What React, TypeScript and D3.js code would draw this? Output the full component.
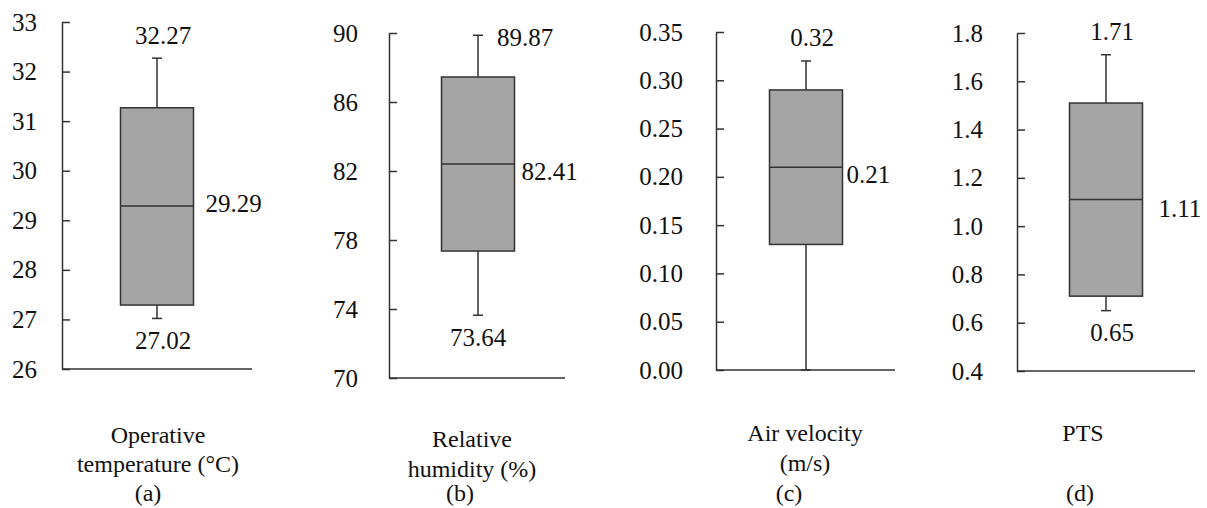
import * as d3 from "d3";
import { useEffect, useRef } from "react";

// values (box plots of four field variables)
const panelTags = ["(a)", "(b)", "(c)", "(d)"];
const axisTitles = [
    ["Operative", "temperature (°C)"],
    ["Relative", "humidity (%)"],
    ["Air velocity", "(m/s)"],
    ["PTS"],
];
const yMin = [26, 70, 0, 0.4];
const yMax = [33, 90, 0.35, 1.8];
const yTicks = [
    [26, 27, 28, 29, 30, 31, 32, 33],
    [70, 74, 78, 82, 86, 90],
    [0, 0.05, 0.1, 0.15, 0.2, 0.25, 0.3, 0.35],
    [0.4, 0.6, 0.8, 1.0, 1.2, 1.4, 1.6, 1.8],
];
const tickFormats = ["d", "d", ".2f", ".1f"];
const whiskerLow = [27.02, 73.64, 0.0, 0.65];
const quartile1 = [27.29, 77.36, 0.13, 0.71];
const medians = [29.29, 82.41, 0.21, 1.11];
const quartile3 = [31.27, 87.45, 0.29, 1.51];
const whiskerHigh = [32.27, 89.87, 0.32, 1.71];
const highLabels = ["32.27", "89.87", "0.32", "1.71"];
const medianLabels = ["29.29", "82.41", "0.21", "1.11"];
const lowLabels = ["27.02", "73.64", "", "0.65"];

const W = 1207;
const H = 508;

// layout of each panel in pixels
const layout = [
    { axisX: 62, right: 252, top: 22, bottom: 369, cx: 157, pad: 25, hiPos: "top", medDx: 12, medDy: -2, titleX: 158, titleY: [443, 472], tagX: 148 },
    { axisX: 389, right: 565, top: 33, bottom: 378, cx: 478, pad: 31, hiPos: "right", medDx: 7, medDy: 8, titleX: 472, titleY: [447, 477], tagX: 460 },
    { axisX: 716, right: 895, top: 32, bottom: 370, cx: 806, pad: 33, hiPos: "top", medDx: 4, medDy: 7, titleX: 805, titleY: [441, 471], tagX: 789 },
    { axisX: 1017, right: 1195, top: 33, bottom: 371, cx: 1106, pad: 34, hiPos: "top", medDx: 16, medDy: 9, titleX: 1083, titleY: [441], tagX: 1080 },
];

const boxWidth = 73;
const capWidth = 10;
const ink = "#333333";
const font = "Liberation Serif, DejaVu Serif, serif";

export default function App() {
    const svgRef = useRef<SVGSVGElement | null>(null);

    useEffect(() => {
        const svg = d3.select(svgRef.current);
        svg.selectAll("*").remove();

        svg.append("rect").attr("width", W).attr("height", H).attr("fill", "#fff");

        layout.forEach((L, i) => {
            const y = d3.scaleLinear().domain([yMin[i], yMax[i]]).range([L.bottom, L.top]);
            const g = svg.append("g").style("font-family", font);

            // y axis, ticks pointing inward
            const ax = g
                .append("g")
                .attr("transform", `translate(${L.axisX},0)`)
                .call(
                    d3
                        .axisLeft(y)
                        .tickValues(yTicks[i])
                        .tickSizeInner(-8)
                        .tickSizeOuter(0)
                        .tickPadding(L.pad)
                        .tickFormat(d3.format(tickFormats[i]) as any)
                );
            ax.attr("font-family", null);
            ax.select(".domain").attr("stroke", ink).attr("stroke-width", 1.5);
            ax.selectAll(".tick line").attr("stroke", ink).attr("stroke-width", 1.5);
            ax.selectAll(".tick text")
                .attr("fill", "#111")
                .style("font-family", font)
                .style("font-size", "25px");

            // bottom line
            g.append("line")
                .attr("x1", L.axisX)
                .attr("x2", L.right)
                .attr("y1", L.bottom)
                .attr("y2", L.bottom)
                .attr("stroke", ink)
                .attr("stroke-width", 1.5);

            // whiskers
            g.append("line")
                .attr("x1", L.cx)
                .attr("x2", L.cx)
                .attr("y1", y(whiskerHigh[i]))
                .attr("y2", y(whiskerLow[i]))
                .attr("stroke", ink)
                .attr("stroke-width", 1.5);
            [whiskerHigh[i], whiskerLow[i]].forEach((v) => {
                g.append("line")
                    .attr("x1", L.cx - capWidth / 2)
                    .attr("x2", L.cx + capWidth / 2)
                    .attr("y1", y(v))
                    .attr("y2", y(v))
                    .attr("stroke", ink)
                    .attr("stroke-width", 1.5);
            });

            // box
            g.append("rect")
                .attr("x", L.cx - boxWidth / 2)
                .attr("y", y(quartile3[i]))
                .attr("width", boxWidth)
                .attr("height", y(quartile1[i]) - y(quartile3[i]))
                .attr("fill", "#a5a5a5")
                .attr("stroke", ink)
                .attr("stroke-width", 1.5);
            g.append("line")
                .attr("x1", L.cx - boxWidth / 2)
                .attr("x2", L.cx + boxWidth / 2)
                .attr("y1", y(medians[i]))
                .attr("y2", y(medians[i]))
                .attr("stroke", ink)
                .attr("stroke-width", 1.5);

            const label = (txt: string, x: number, yy: number, anchor: string) =>
                g.append("text")
                    .attr("x", x)
                    .attr("y", yy)
                    .attr("text-anchor", anchor)
                    .attr("dominant-baseline", "central")
                    .style("font-family", font)
                    .style("font-size", "25px")
                    .attr("fill", "#111")
                    .text(txt);

            if (L.hiPos === "top") label(highLabels[i], L.cx + 6, y(whiskerHigh[i]) - 23, "middle");
            else label(highLabels[i], L.cx + 19, y(whiskerHigh[i]) + 2, "start");
            label(medianLabels[i], L.cx + boxWidth / 2 + L.medDx, y(medians[i]) + L.medDy, "start");
            if (lowLabels[i]) label(lowLabels[i], L.cx + (i === 1 ? 0 : 6), y(whiskerLow[i]) + 22, "middle");

            // axis title and panel tag
            axisTitles[i].forEach((t, j) => {
                g.append("text")
                    .attr("x", L.titleX)
                    .attr("y", L.titleY[j])
                    .attr("text-anchor", "middle")
                    .style("font-family", font)
                    .style("font-size", "24px")
                    .attr("fill", "#111")
                    .text(t);
            });
            g.append("text")
                .attr("x", L.tagX)
                .attr("y", 501)
                .attr("text-anchor", "middle")
                .style("font-family", font)
                .style("font-size", "24px")
                .attr("fill", "#111")
                .text(panelTags[i]);
        });
    }, []);

    return (
        <svg
            ref={svgRef}
            width={W}
            height={H}
            style={{ position: "absolute", left: 0, top: 0 }}
        ></svg>
    );
}
